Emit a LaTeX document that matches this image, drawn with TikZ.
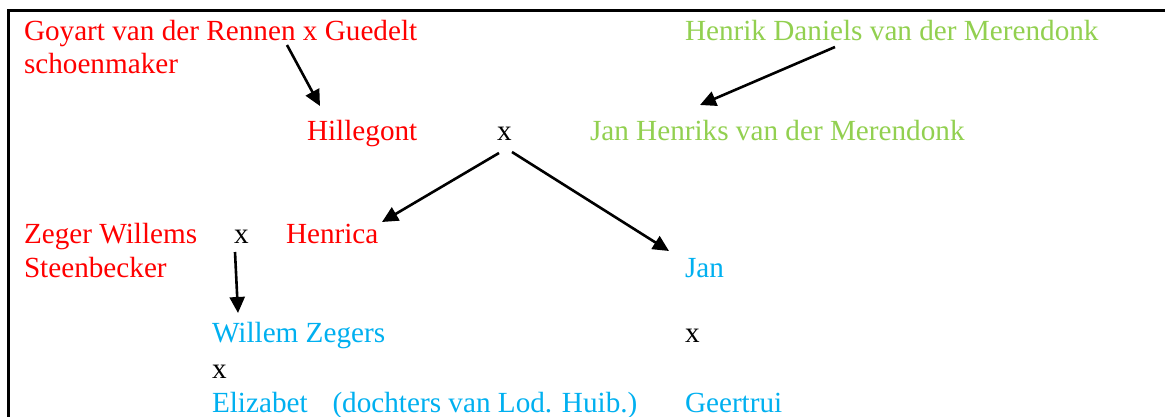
\documentclass[tikz,border=0pt]{standalone}
\usepackage{fontspec}
\setmainfont{Liberation Serif}
\usetikzlibrary{arrows.meta}
\definecolor{cred}{RGB}{255,0,0}
\definecolor{cgreen}{RGB}{146,208,80}
\definecolor{cblue}{RGB}{0,176,240}
\tikzset{
  txt/.style={anchor=base west,inner sep=0pt,outer sep=0pt,font=\fontsize{29.2}{34}\selectfont},
  red/.style={txt,text=cred},
  grn/.style={txt,text=cgreen},
  blu/.style={txt,text=cblue},
  blk/.style={txt,text=black},
  arr/.style={line width=2.6pt,-{Triangle[length=16pt,width=15pt]}},
  frame/.style={line width=3pt,line cap=rect}
}
\begin{document}
\begin{tikzpicture}[x=1pt,y=-1pt]
\useasboundingbox (0,0) rectangle (1165,416);
\fill[white] (0,0) rectangle (1165,416);
\coordinate (fl) at (8.5,416);
\coordinate (ftl) at (8.5,10.5);
\coordinate (ftr) at (1165,10.5);
\draw[frame] (fl) -- (ftl) -- (ftr);

\node[red] (goy) at (24,40) {Goyart van der Rennen x Guedelt};
\node[red] (schoen) at (24,73) {schoenmaker};
\node[grn] (henrik) at (685,40) {Henrik Daniels van der Merendonk};
\node[red] (hille) at (307,140) {Hillegont};
\node[blk] (x1) at (497,140) {x};
\node[grn] (janh) at (590,140) {Jan Henriks van der Merendonk};
\node[red] (zeger) at (24,243) {Zeger Willems};
\node[red] (steen) at (24,277) {Steenbecker};
\node[blk] (x2) at (234,243) {x};
\node[red] (henrica) at (286,243) {Henrica};
\node[blu] (jan) at (685,277) {Jan};
\node[blu] (willem) at (212,342) {Willem Zegers};
\node[blk] (x3) at (685,342) {x};
\node[blk] (x4) at (212,378) {x};
\node[blu] (eliz) at (212,412) {Elizabet\hspace{0.6em} (dochters van Lod. Huib.)};
\node[blu] (geer) at (685,412) {Geertrui};

\coordinate (a1s) at (287,45);
\coordinate (a1e) at (320,106);
\coordinate (a2s) at (835,47);
\coordinate (a2e) at (700,105);
\coordinate (a3s) at (499,153);
\coordinate (a3e) at (382,222);
\coordinate (a4s) at (512,152);
\coordinate (a4e) at (669,251);
\coordinate (a5s) at (235,252);
\coordinate (a5e) at (238,313);
\draw[arr] (a1s) -- (a1e);
\draw[arr] (a2s) -- (a2e);
\draw[arr] (a3s) -- (a3e);
\draw[arr] (a4s) -- (a4e);
\draw[arr] (a5s) -- (a5e);
\end{tikzpicture}
\end{document}
